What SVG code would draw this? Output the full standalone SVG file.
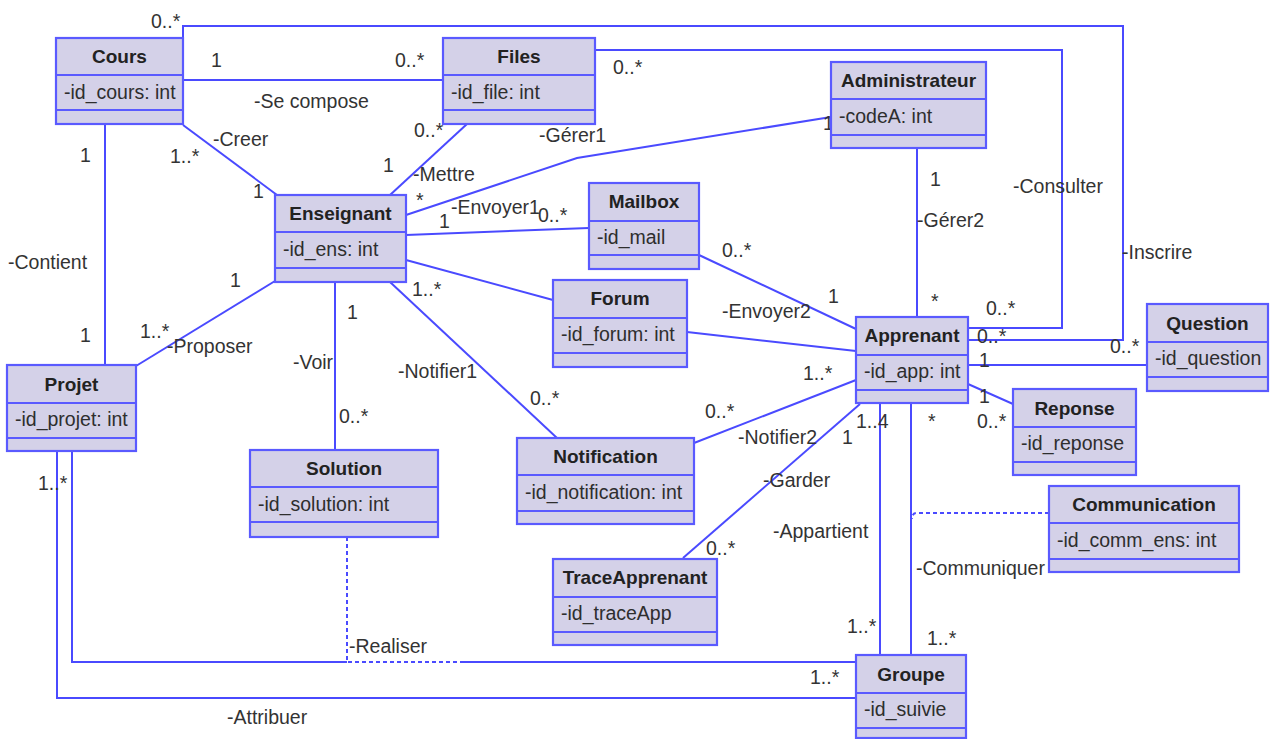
<svg xmlns="http://www.w3.org/2000/svg" width="1276" height="739" viewBox="0 0 1276 739">
<style>
.box{fill:#d4d1e8;stroke:#5a5aff;stroke-width:2.2}
.sep{stroke:#5a5aff;stroke-width:2.2}
.ln{fill:none;stroke:#4a4aff;stroke-width:2}
.dash{fill:none;stroke:#4a4aff;stroke-width:2;stroke-dasharray:4,3}
.t{font-family:"Liberation Sans",Arial,sans-serif;font-size:19.5px;fill:#2e2e2e}
.h{font-family:"Liberation Sans",Arial,sans-serif;font-size:19px;font-weight:bold;fill:#222;text-anchor:middle}
.l{font-family:"Liberation Sans",Arial,sans-serif;font-size:19.5px;fill:#333}
</style>
<rect width="1276" height="739" fill="#fff"/>
<g id="connectors">
<path class="ln" d="M183,80 L443,80"/>
<path class="ln" d="M183,38 L183,26 L1123,26 L1123,340 L968,340"/>
<path class="ln" d="M595,50 L1062,50 L1062,328 L968,328"/>
<path class="ln" d="M105,124 L105,365"/>
<path class="ln" d="M183,125 L277,195"/>
<path class="ln" d="M467,124 L390,195"/>
<path class="ln" d="M406,215 L577,158 L831,117"/>
<path class="ln" d="M406,235 L589,228"/>
<path class="ln" d="M406,260 L553,300"/>
<path class="ln" d="M687,332 L856,351"/>
<path class="ln" d="M699,255 L856,329"/>
<path class="ln" d="M335,282 L335,450"/>
<path class="ln" d="M390,282 L557,438"/>
<path class="ln" d="M275,281 L136,366"/>
<path class="ln" d="M694,443 L856,380"/>
<path class="ln" d="M683,558 L860,404"/>
<path class="ln" d="M880,403 L880,655"/>
<path class="ln" d="M911,403 L911,655"/>
<path class="dash" d="M1049,513 L917,513 Q912,513 912,519"/>
<path class="ln" d="M917,148 L917,317"/>
<path class="ln" d="M968,384 L1013,404"/>
<path class="ln" d="M968,365 L1147,365"/>
<path class="ln" d="M72,451 L72,662 L347,662"/>
<path class="ln" d="M462,662 L856,662"/>
<path class="dash" d="M347,537 L347,662 L462,662"/>
<path class="ln" d="M57,451 L57,698 L856,698"/>
</g>
<g id="labels">
<text class="l" x="151" y="28">0..*</text>
<text class="l" x="211" y="67">1</text>
<text class="l" x="395" y="67">0..*</text>
<text class="l" x="254" y="108">-Se compose</text>
<text class="l" x="213" y="146">-Creer</text>
<text class="l" x="170" y="163">1..*</text>
<text class="l" x="80" y="162">1</text>
<text class="l" x="253" y="198">1</text>
<text class="l" x="383" y="172">1</text>
<text class="l" x="414" y="137">0..*</text>
<text class="l" x="413" y="181">-Mettre</text>
<text class="l" x="416" y="207">*</text>
<text class="l" x="539" y="142">-Gérer1</text>
<text class="l" x="823" y="130">1</text>
<text class="l" x="451" y="214">-Envoyer1</text>
<text class="l" x="439" y="228">1</text>
<text class="l" x="538" y="222">0..*</text>
<text class="l" x="8" y="269">-Contient</text>
<text class="l" x="80" y="342">1</text>
<text class="l" x="230" y="287">1</text>
<text class="l" x="140" y="338">1..*</text>
<text class="l" x="167" y="353">-Proposer</text>
<text class="l" x="347" y="319">1</text>
<text class="l" x="293" y="369">-Voir</text>
<text class="l" x="339" y="423">0..*</text>
<text class="l" x="412" y="296">1..*</text>
<text class="l" x="398" y="378">-Notifier1</text>
<text class="l" x="530" y="405">0..*</text>
<text class="l" x="722" y="257">0..*</text>
<text class="l" x="828" y="303">1</text>
<text class="l" x="722" y="318">-Envoyer2</text>
<text class="l" x="803" y="380">1..*</text>
<text class="l" x="705" y="418">0..*</text>
<text class="l" x="738" y="444">-Notifier2</text>
<text class="l" x="842" y="444">1</text>
<text class="l" x="856" y="428">1..4</text>
<text class="l" x="928" y="428">*</text>
<text class="l" x="763" y="487">-Garder</text>
<text class="l" x="706" y="555">0..*</text>
<text class="l" x="773" y="538">-Appartient</text>
<text class="l" x="847" y="633">1..*</text>
<text class="l" x="927" y="645">1..*</text>
<text class="l" x="916" y="575">-Communiquer</text>
<text class="l" x="930" y="186">1</text>
<text class="l" x="917" y="227">-Gérer2</text>
<text class="l" x="931" y="308">*</text>
<text class="l" x="1013" y="193">-Consulter</text>
<text class="l" x="613" y="74">0..*</text>
<text class="l" x="1122" y="259">-Inscrire</text>
<text class="l" x="986" y="315">0..*</text>
<text class="l" x="977" y="343">0..*</text>
<text class="l" x="979" y="367">1</text>
<text class="l" x="1110" y="353">0..*</text>
<text class="l" x="979" y="403">1</text>
<text class="l" x="977" y="428">0..*</text>
<text class="l" x="38" y="490">1..*</text>
<text class="l" x="349" y="653">-Realiser</text>
<text class="l" x="810" y="684">1..*</text>
<text class="l" x="227" y="724">-Attribuer</text>
</g>
<g id="Cours">
<rect class="box" x="56" y="38" width="127" height="86"/>
<line class="sep" x1="56" y1="75" x2="183" y2="75"/><line class="sep" x1="56" y1="110" x2="183" y2="110"/>
<text class="h" x="119.5" y="63">Cours</text><text class="t" x="64" y="99">-id_cours: int</text>
</g>
<g id="Files">
<rect class="box" x="443" y="38" width="152" height="86"/>
<line class="sep" x1="443" y1="75" x2="595" y2="75"/><line class="sep" x1="443" y1="110" x2="595" y2="110"/>
<text class="h" x="519" y="63">Files</text><text class="t" x="451" y="99">-id_file: int</text>
</g>
<g id="Administrateur">
<rect class="box" x="831" y="62" width="155" height="86"/>
<line class="sep" x1="831" y1="99" x2="986" y2="99"/><line class="sep" x1="831" y1="135" x2="986" y2="135"/>
<text class="h" x="908.5" y="87">Administrateur</text><text class="t" x="839" y="123">-codeA: int</text>
</g>
<g id="Enseignant">
<rect class="box" x="275" y="195" width="131" height="87"/>
<line class="sep" x1="275" y1="232" x2="406" y2="232"/><line class="sep" x1="275" y1="268" x2="406" y2="268"/>
<text class="h" x="340.5" y="220">Enseignant</text><text class="t" x="283" y="256">-id_ens: int</text>
</g>
<g id="Mailbox">
<rect class="box" x="589" y="183" width="110" height="86"/>
<line class="sep" x1="589" y1="221" x2="699" y2="221"/><line class="sep" x1="589" y1="255" x2="699" y2="255"/>
<text class="h" x="644" y="208">Mailbox</text><text class="t" x="597" y="244">-id_mail</text>
</g>
<g id="Forum">
<rect class="box" x="553" y="280" width="134" height="87"/>
<line class="sep" x1="553" y1="318" x2="687" y2="318"/><line class="sep" x1="553" y1="353" x2="687" y2="353"/>
<text class="h" x="620" y="305">Forum</text><text class="t" x="561" y="341">-id_forum: int</text>
</g>
<g id="Projet">
<rect class="box" x="7" y="365" width="129" height="86"/>
<line class="sep" x1="7" y1="403" x2="136" y2="403"/><line class="sep" x1="7" y1="438" x2="136" y2="438"/>
<text class="h" x="71.5" y="391">Projet</text><text class="t" x="15" y="426">-id_projet: int</text>
</g>
<g id="Solution">
<rect class="box" x="250" y="450" width="188" height="87"/>
<line class="sep" x1="250" y1="487" x2="438" y2="487"/><line class="sep" x1="250" y1="522" x2="438" y2="522"/>
<text class="h" x="344" y="475">Solution</text><text class="t" x="258" y="511">-id_solution: int</text>
</g>
<g id="Notification">
<rect class="box" x="517" y="438" width="177" height="86"/>
<line class="sep" x1="517" y1="475" x2="694" y2="475"/><line class="sep" x1="517" y1="511" x2="694" y2="511"/>
<text class="h" x="605.5" y="463">Notification</text><text class="t" x="525" y="499">-id_notification: int</text>
</g>
<g id="TraceApprenant">
<rect class="box" x="553" y="559" width="164" height="86"/>
<line class="sep" x1="553" y1="597" x2="717" y2="597"/><line class="sep" x1="553" y1="632" x2="717" y2="632"/>
<text class="h" x="635" y="584">TraceApprenant</text><text class="t" x="561" y="620">-id_traceApp</text>
</g>
<g id="Apprenant">
<rect class="box" x="856" y="317" width="112" height="86"/>
<line class="sep" x1="856" y1="355" x2="968" y2="355"/><line class="sep" x1="856" y1="390" x2="968" y2="390"/>
<text class="h" x="912" y="342">Apprenant</text><text class="t" x="864" y="378">-id_app: int</text>
</g>
<g id="Question">
<rect class="box" x="1147" y="304" width="121" height="87"/>
<line class="sep" x1="1147" y1="342" x2="1268" y2="342"/><line class="sep" x1="1147" y1="377" x2="1268" y2="377"/>
<text class="h" x="1207.5" y="330">Question</text><text class="t" x="1155" y="365">-id_question</text>
</g>
<g id="Reponse">
<rect class="box" x="1013" y="389" width="123" height="86"/>
<line class="sep" x1="1013" y1="427" x2="1136" y2="427"/><line class="sep" x1="1013" y1="462" x2="1136" y2="462"/>
<text class="h" x="1074.5" y="415">Reponse</text><text class="t" x="1021" y="450">-id_reponse</text>
</g>
<g id="Communication">
<rect class="box" x="1049" y="486" width="190" height="86"/>
<line class="sep" x1="1049" y1="523" x2="1239" y2="523"/><line class="sep" x1="1049" y1="559" x2="1239" y2="559"/>
<text class="h" x="1144" y="511">Communication</text><text class="t" x="1057" y="547">-id_comm_ens: int</text>
</g>
<g id="Groupe">
<rect class="box" x="856" y="655" width="110" height="83"/>
<line class="sep" x1="856" y1="693" x2="966" y2="693"/><line class="sep" x1="856" y1="728" x2="966" y2="728"/>
<text class="h" x="911" y="681">Groupe</text><text class="t" x="864" y="716">-id_suivie</text>
</g>
</svg>
